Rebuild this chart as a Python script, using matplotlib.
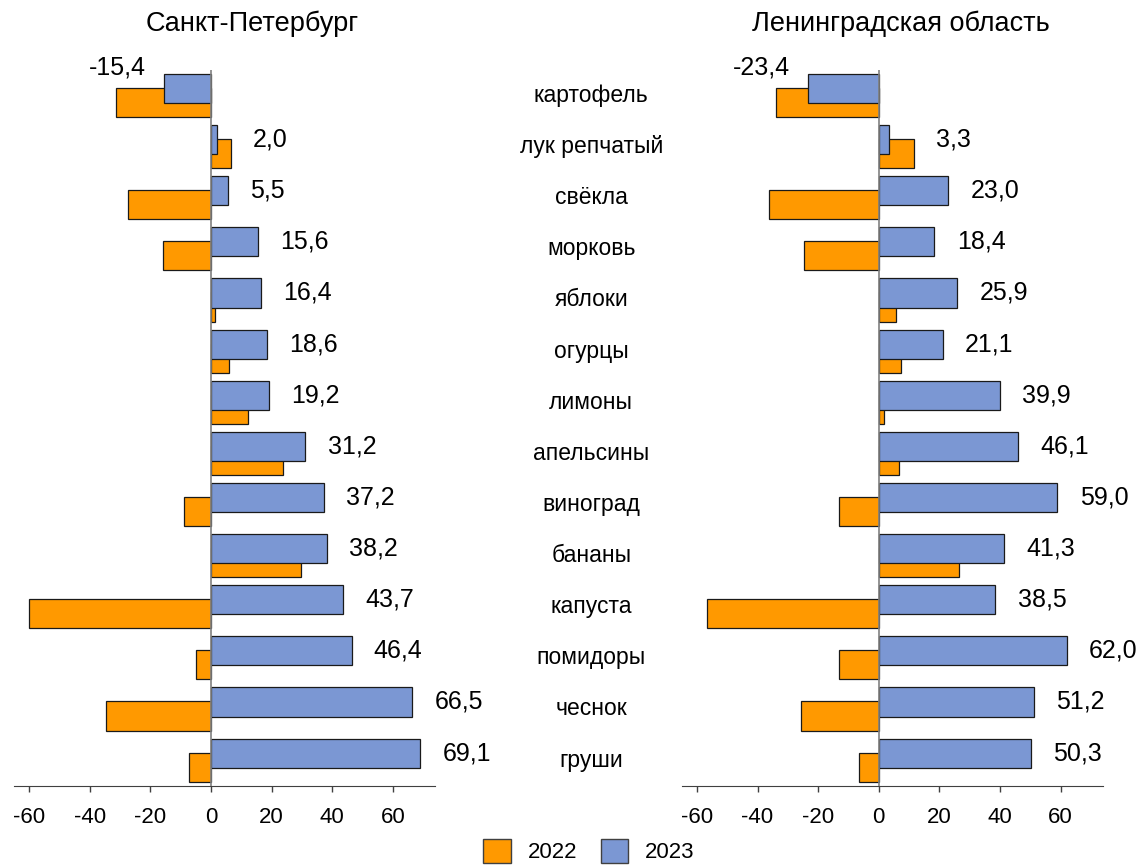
import numpy as np
import matplotlib
matplotlib.use("Agg")
import matplotlib.pyplot as plt
from matplotlib.transforms import blended_transform_factory
from matplotlib.patches import Patch

plt.rcParams['font.family'] = ['Liberation Sans', 'DejaVu Sans']

# Data: price change, %
categories = ['картофель', 'лук репчатый', 'свёкла', 'морковь', 'яблоки', 'огурцы',
              'лимоны', 'апельсины', 'виноград', 'бананы', 'капуста', 'помидоры',
              'чеснок', 'груши']
spb_2023 = [-15.4, 2.0, 5.5, 15.6, 16.4, 18.6, 19.2, 31.2, 37.2, 38.2, 43.7, 46.4, 66.5, 69.1]
spb_2022 = [-31.5, 6.5, -27.3, -15.7, 1.5, 5.8, 12.3, 23.9, -9.0, 29.6, -60.2, -5.0, -34.6, -7.4]
lo_2023 = [-23.4, 3.3, 23.0, 18.4, 25.9, 21.1, 39.9, 46.1, 59.0, 41.3, 38.5, 62.0, 51.2, 50.3]
lo_2022 = [-33.8, 11.5, -36.2, -24.7, 5.8, 7.5, 1.7, 6.6, -13.1, 26.5, -56.8, -13.2, -25.5, -6.6]
titles = ['Санкт-Петербург', 'Ленинградская область']
years = ['2022', '2023']
xticks = [-60, -40, -20, 0, 20, 40, 60]

c22 = '#FF9900'
c23 = '#7B97D3'
edge = '#1a1a1a'

fig = plt.figure(figsize=(11.38, 8.65), dpi=100)
ax1 = fig.add_axes([0.0123, 0.0917, 0.3701, 0.8275])
ax2 = fig.add_axes([0.5991, 0.0917, 0.3701, 0.8275])

y = np.arange(len(categories))


def draw_panel(ax, v22, v23):
    ax.barh(y + 0.137, v22, height=0.57, color=c22, edgecolor=edge, linewidth=0.9, zorder=2)
    ax.barh(y - 0.137, v23, height=0.57, color=c23, edgecolor=edge, linewidth=0.9, zorder=3)
    ax.axvline(0, color='#808080', lw=1.2, zorder=4)
    ax.set_xlim(-65, 74)
    ax.set_ylim(13.5, -0.5)
    for s in ['top', 'right', 'left']:
        ax.spines[s].set_visible(False)
    ax.spines['bottom'].set_color('#404040')
    ax.set_yticks([])
    ax.set_xticks(xticks)
    ax.set_xticklabels([str(t) for t in xticks])
    ax.tick_params(axis='x', direction='out', length=4.5, width=1, color='#404040',
                   pad=11, labelsize=16)
    for yi, a, b in zip(y, v22, v23):
        txt = f"{b:.1f}".replace('.', ',')
        if b < 0:
            ax.annotate(txt, (b, yi - 0.137), xytext=(-13, 15), textcoords='offset points',
                        ha='right', va='center', fontsize=18)
        else:
            # keep the label clear of a longer 2022 bar
            ax.annotate(txt, (max(a, b), yi - 0.137), xytext=(16, 0), textcoords='offset points',
                        ha='left', va='center', fontsize=18)


draw_panel(ax1, spb_2022, spb_2023)
draw_panel(ax2, lo_2022, lo_2023)

# category names between the panels
tr = blended_transform_factory(fig.transFigure, ax2.transData)
for yi, name in zip(y, categories):
    fig.text(0.5195, yi, name, transform=tr, ha='center', va='center', fontsize=16.5)

fig.text(0.2218, 1 - 24 / 865, titles[0], ha='center', va='center', fontsize=19.5)
fig.text(0.7913, 1 - 24 / 865, titles[1], ha='center', va='center', fontsize=19.5)

handles = [Patch(facecolor=c22, edgecolor='#404040'), Patch(facecolor=c23, edgecolor='#404040')]
fig.legend(handles, years, loc='center', bbox_to_anchor=(589 / 1138, 1 - 851 / 865),
           ncol=2, frameon=False, fontsize=16, handlelength=1.25, handleheight=1.3,
           handletextpad=0.75, columnspacing=1.05, borderpad=0.2)

fig.savefig('out.png', dpi=100)
